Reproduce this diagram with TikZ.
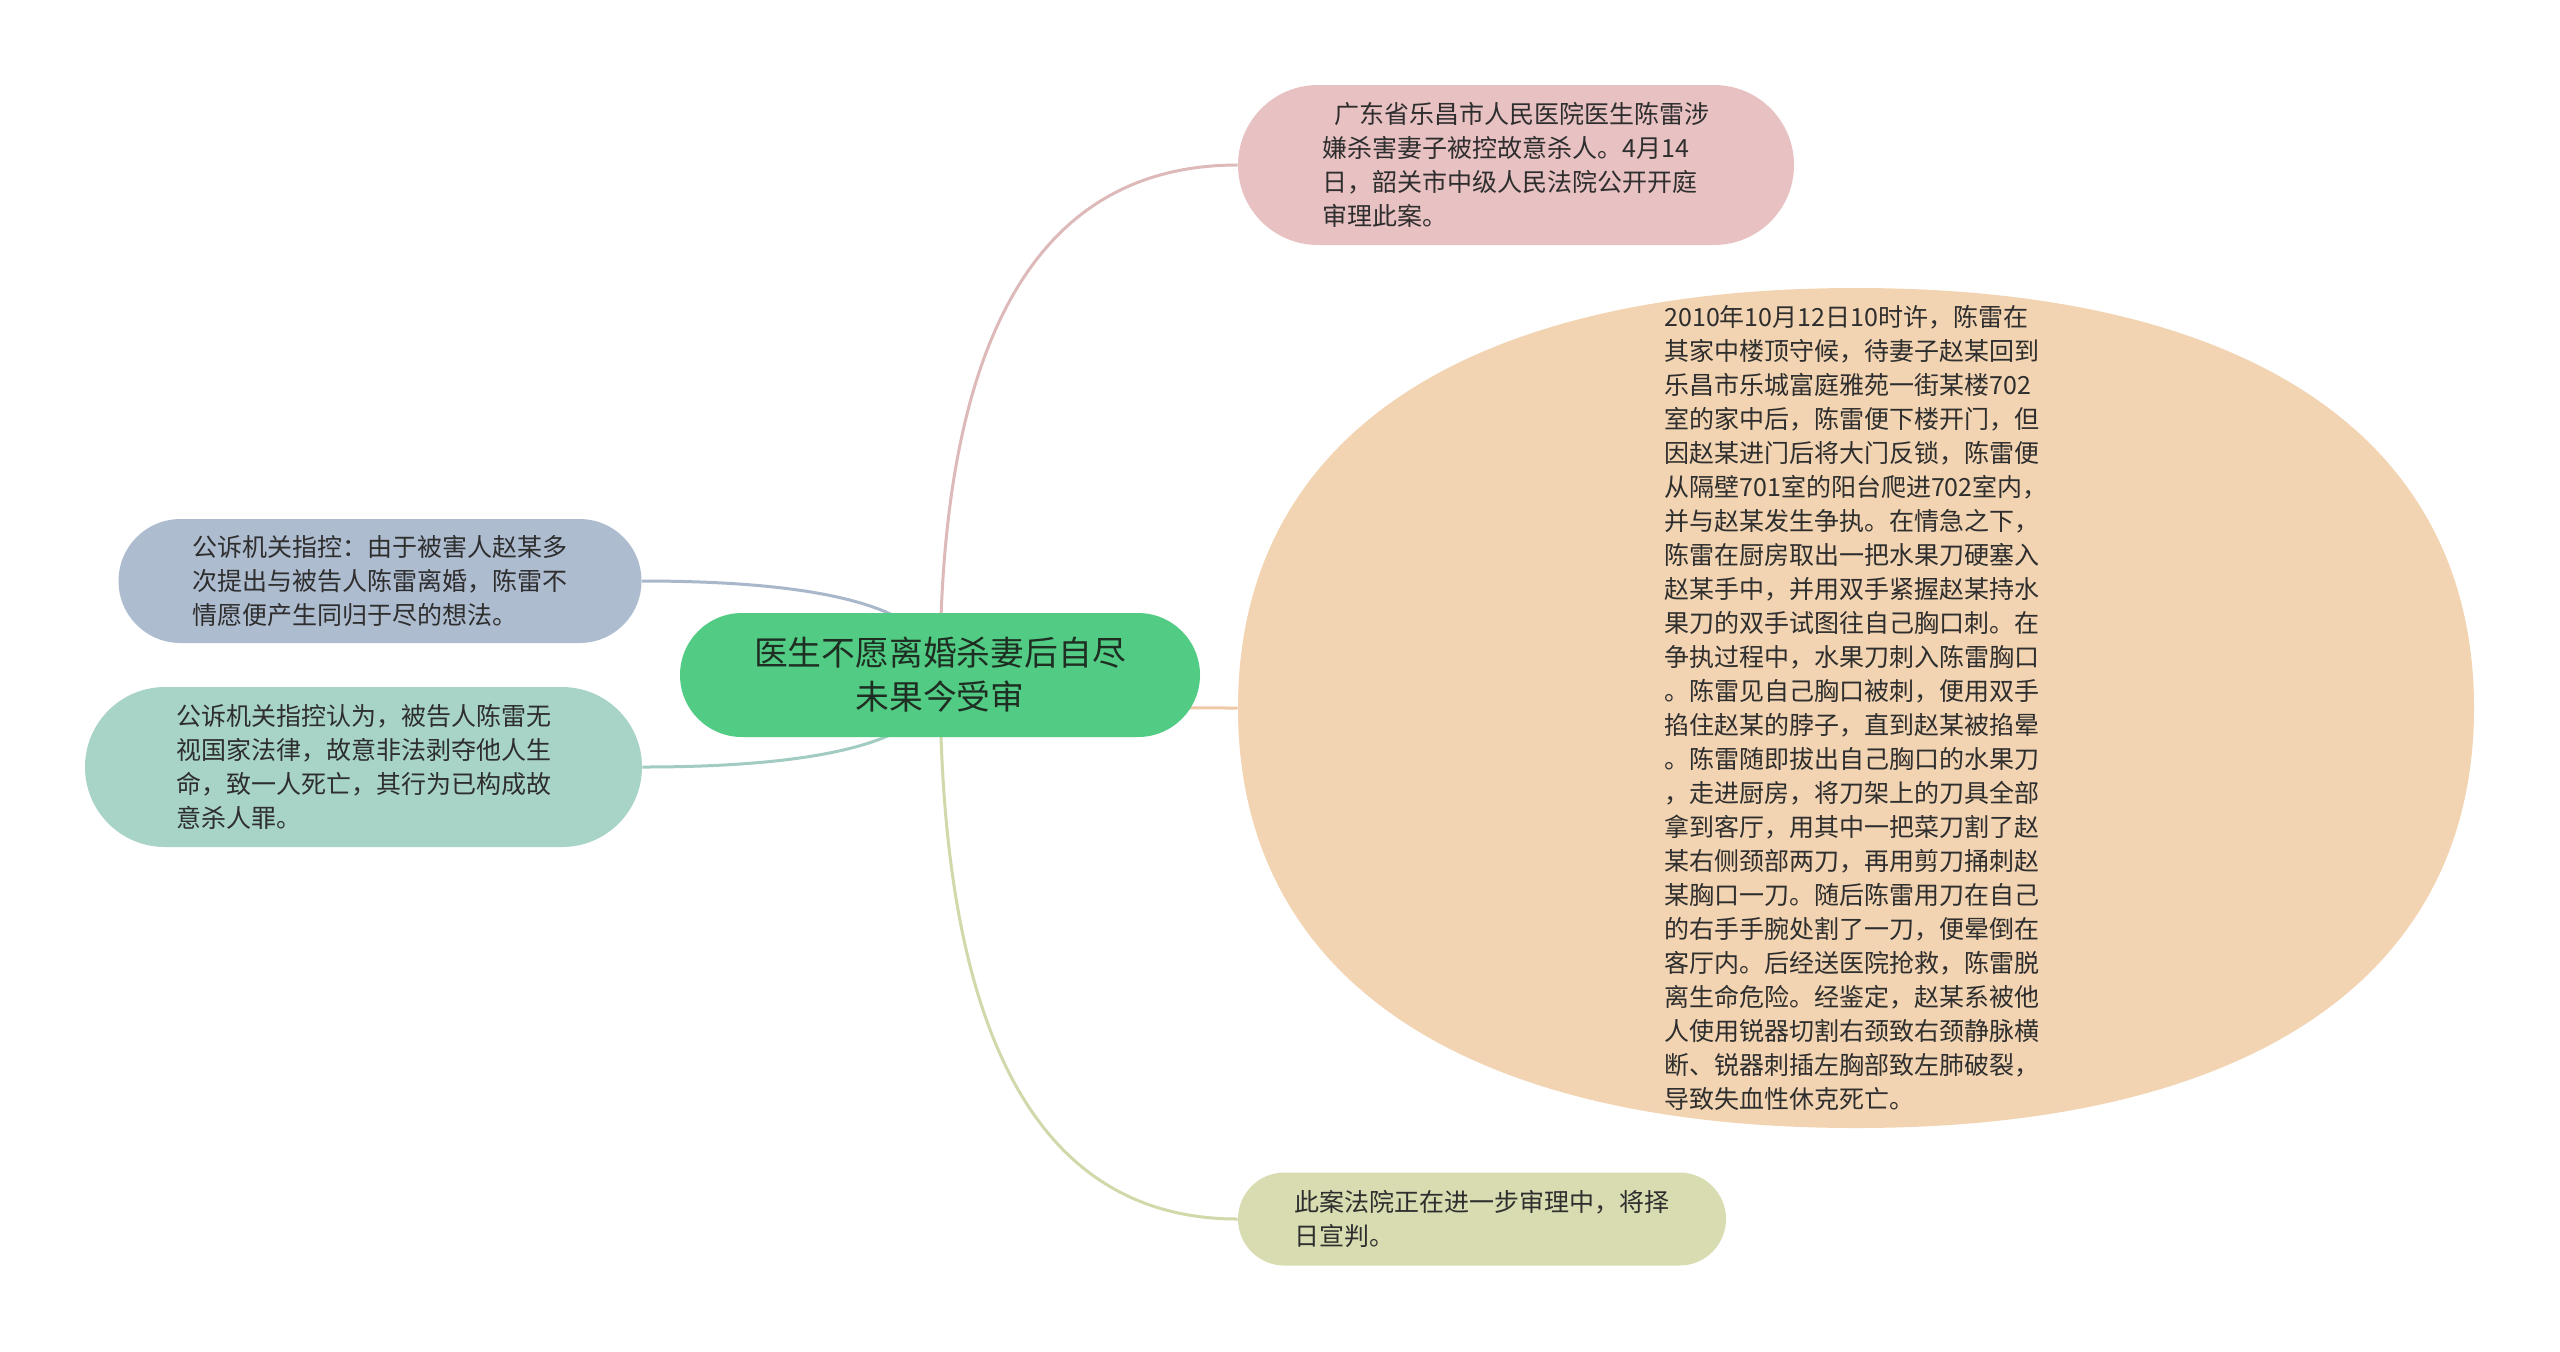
\documentclass[tikz,border=0pt]{standalone}
\usepackage{fontspec}
\newfontfamily\cjk{Noto Sans CJK SC}
\usetikzlibrary{calc,backgrounds}
\definecolor{cgreen}{HTML}{52CC84}
\definecolor{cpink}{HTML}{E8C1C2}
\definecolor{lpink}{HTML}{DDB9BA}
\definecolor{corange}{HTML}{F2D4B2}
\definecolor{lorange}{HTML}{EFC8A6}
\definecolor{colive}{HTML}{D8DCB0}
\definecolor{lolive}{HTML}{D2D8AA}
\definecolor{cblue}{HTML}{AEBCD0}
\definecolor{lblue}{HTML}{A9B7CB}
\definecolor{cteal}{HTML}{A8D4C8}
\definecolor{lteal}{HTML}{A2CCC1}
\definecolor{txt}{HTML}{2E2E2E}
\definecolor{ctxt}{HTML}{1E2E22}
\newcommand\mmbranch[3]{%
  \coordinate (k#2) at (#1.center |- #2.west);
  \draw[conn,#3] (#1.center) .. controls ($(#1.center)!0.6667!(k#2)$) and ($(#2.west)!0.6667!(k#2)$) .. (#2.west);}
\newcommand\mmbranchL[3]{%
  \coordinate (k#2) at (#1.center |- #2.east);
  \draw[conn,#3] (#1.center) .. controls ($(#1.center)!0.6667!(k#2)$) and ($(#2.east)!0.6667!(k#2)$) .. (#2.east);}
\begin{document}
\begin{tikzpicture}[x=0.5pt,y=-0.5pt,
  box/.style={rounded corners=#1, inner sep=0pt, align=left, text=txt,
    font=\cjk\fontsize{12.5}{17}\selectfont},
  conn/.style={line width=1.5pt}]
\useasboundingbox (0,0) rectangle (2560,1351);
% nodes
\node[box=31pt, fill=cgreen, text=ctxt, align=center, minimum width=260pt, minimum height=62pt,
  font=\cjk\fontsize{16.9}{22}\selectfont] (c) at (940,675) {医生不愿离婚杀妻后自尽\\未果今受审};
\node[box=40pt, fill=cpink, minimum width=278pt, minimum height=80pt] (n1) at (1516,165)
  {\hspace*{0.45em}广东省乐昌市人民医院医生陈雷涉\\嫌杀害妻子被控故意杀人。4月14\\日，韶关市中级人民法院公开开庭\\审理此案。};
\node[box=0pt, minimum width=618pt, minimum height=420pt] (n2) at (1856,708)
  {2010年10月12日10时许，陈雷在\\其家中楼顶守候，待妻子赵某回到\\乐昌市乐城富庭雅苑一街某楼702\\室的家中后，陈雷便下楼开门，但\\因赵某进门后将大门反锁，陈雷便\\从隔壁701室的阳台爬进702室内，\\并与赵某发生争执。在情急之下，\\陈雷在厨房取出一把水果刀硬塞入\\赵某手中，并用双手紧握赵某持水\\果刀的双手试图往自己胸口刺。在\\争执过程中，水果刀刺入陈雷胸口\\。陈雷见自己胸口被刺，便用双手\\掐住赵某的脖子，直到赵某被掐晕\\。陈雷随即拔出自己胸口的水果刀\\，走进厨房，将刀架上的刀具全部\\拿到客厅，用其中一把菜刀割了赵\\某右侧颈部两刀，再用剪刀捅刺赵\\某胸口一刀。随后陈雷用刀在自己\\的右手手腕处割了一刀，便晕倒在\\客厅内。后经送医院抢救，陈雷脱\\离生命危险。经鉴定，赵某系被他\\人使用锐器切割右颈致右颈静脉横\\断、锐器刺插左胸部致左肺破裂，\\导致失血性休克死亡。};
\node[box=23.25pt, fill=colive, minimum width=244pt, minimum height=46.5pt] (n3) at (1482,1219)
  {此案法院正在进一步审理中，将择\\日宣判。};
\node[box=31pt, fill=cblue, minimum width=261.5pt, minimum height=62pt] (n4) at (380,581)
  {公诉机关指控：由于被害人赵某多\\次提出与被告人陈雷离婚，陈雷不\\情愿便产生同归于尽的想法。};
\node[box=40pt, fill=cteal, minimum width=278.5pt, minimum height=80pt] (n5) at (363.5,767)
  {公诉机关指控认为，被告人陈雷无\\视国家法律，故意非法剥夺他人生\\命，致一人死亡，其行为已构成故\\意杀人罪。};
\begin{pgfonlayer}{background}
  \fill[white] (0,0) rectangle (2560,1351);
  \fill[corange] (2474,708) .. controls (2474,439.2) and (2251.5,288) .. (1856,288)
    .. controls (1460.5,288) and (1238,439.2) .. (1238,708)
    .. controls (1238,976.8) and (1460.5,1128) .. (1856,1128)
    .. controls (2251.5,1128) and (2474,976.8) .. (2474,708) -- cycle;
  \mmbranch{c}{n1}{lpink}
  \mmbranch{c}{n2}{lorange}
  \mmbranch{c}{n3}{lolive}
  \mmbranchL{c}{n4}{lblue}
  \mmbranchL{c}{n5}{lteal}
\end{pgfonlayer}
\end{tikzpicture}
\end{document}
